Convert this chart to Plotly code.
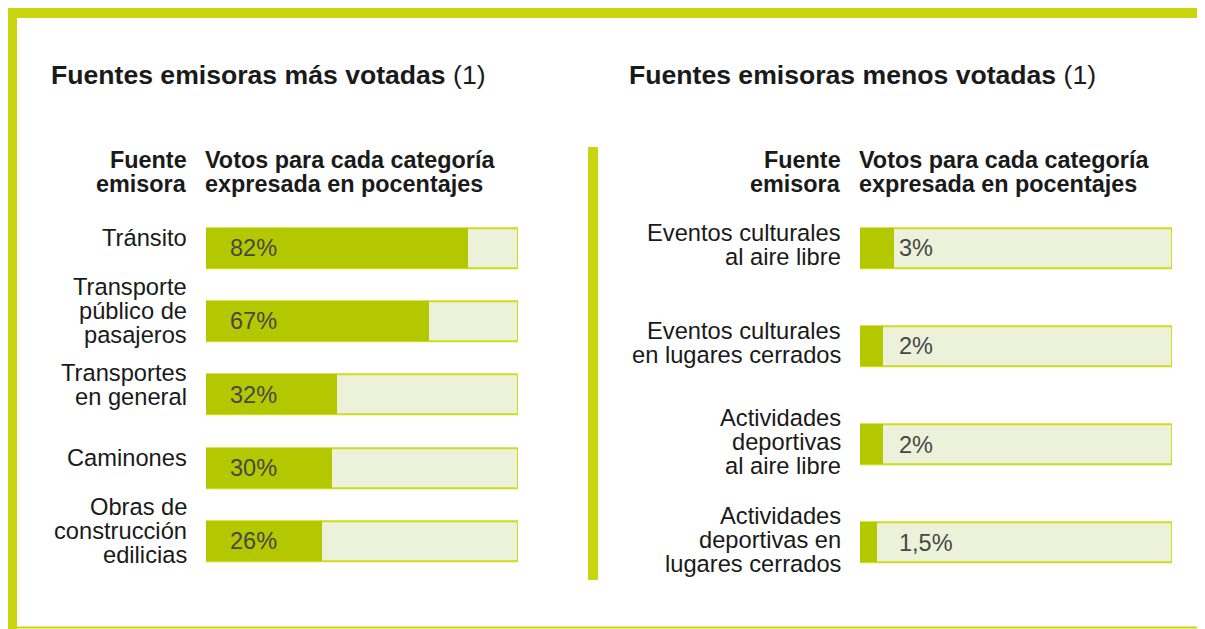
import plotly.graph_objects as go

# ---------------- data ----------------
left_categories = [
    "Tránsito",
    "Transporte<br>público de<br>pasajeros",
    "Transportes<br>en general",
    "Caminones",
    "Obras de<br>construcción<br>edilicias",
]
left_values = [82, 67, 32, 30, 26]

right_categories = [
    "Eventos culturales<br>al aire libre",
    "Eventos culturales<br>en lugares cerrados",
    "Actividades<br>deportivas<br>al aire libre",
    "Actividades<br>deportivas en<br>lugares cerrados",
]
right_values = [3, 2, 2, 1.5]

left_title = "Fuentes emisoras más votadas"
right_title = "Fuentes emisoras menos votadas"
title_note = "(1)"
header_source = ["Fuente", "emisora"]
header_votes = ["Votos para cada categoría", "expresada en pocentajes"]

# ---------------- style ----------------
# The page body has an 8px default margin, so the figure is offset by 8px
# and all page-pixel positions are converted accordingly.
OFF = 8
W, H = 1205 - OFF, 629 - OFF
FRAME = "#c9d50f"
BAR_BORDER = "#cfdb1c"
BAR_BG = "#ecf2da"
BAR_FILL = "#b4c800"
TEXT = "#1a1a1a"
PCT_TEXT = "#474747"
FONT = "Liberation Sans, Arial, sans-serif"

LEFT_RANGE = [-18.4, 101.3]
RIGHT_RANGE = [0, 27.4]


def px(x):
    return (x - OFF) / W


def py(y):
    return 1 - (y - OFF) / H


def fmt(v):
    return ("%g" % v).replace(".", ",") + "%"


fig = go.Figure()

panels = [
    dict(cats=left_categories, vals=left_values, rng=LEFT_RANGE, xa="x", ya="y",
         xdom=[px(206), px(518)], ydom=[py(577.95), py(211.35)], bw=0.548,
         label_right=189, bar_left=203, pct_x=228, title_x=49, label_shift=10),
    dict(cats=right_categories, vals=right_values, rng=RIGHT_RANGE, xa="x2", ya="y2",
         xdom=[px(860), px(1172)], ydom=[py(591.75), py(199.25)], bw=0.408,
         label_right=843, bar_left=857, pct_x=897, title_x=627, label_shift=3),
]

annotations = []
for i, p in enumerate(panels):
    n = len(p["cats"])
    lo, hi = p["rng"]
    fig.add_trace(go.Bar(
        orientation="h", y=p["cats"], x=[hi - lo] * n, base=lo,
        width=p["bw"], marker=dict(color=BAR_BG, line=dict(color=BAR_BORDER, width=2)),
        xaxis=p["xa"], yaxis=p["ya"], hoverinfo="skip", showlegend=False,
    ))
    fig.add_trace(go.Bar(
        orientation="h", y=p["cats"], x=[v - lo for v in p["vals"]], base=lo,
        width=p["bw"], marker=dict(color=BAR_FILL, line=dict(width=0)),
        xaxis=p["xa"], yaxis=p["ya"], showlegend=False,
        customdata=p["vals"], hovertemplate="%{customdata}%<extra></extra>",
    ))
    # category labels (line by line, tight leading)
    for cat, val in zip(p["cats"], p["vals"]):
        lines = cat.split("<br>")
        m = len(lines)
        for j, line in enumerate(lines):
            annotations.append(dict(
                x=px(p["label_right"]), xref="paper", xanchor="right",
                y=cat, yref=p["ya"], yanchor="middle",
                yshift=p["label_shift"] + ((m - 1) / 2 - j) * 24,
                text=line, showarrow=False,
                font=dict(family=FONT, size=23.7, color=TEXT),
            ))
        annotations.append(dict(
            x=px(p["pct_x"]), xref="paper", xanchor="left",
            y=cat, yref=p["ya"], yanchor="middle",
            text=fmt(val), showarrow=False,
            font=dict(family=FONT, size=23.5, color=PCT_TEXT),
        ))
    # headers
    for j, line in enumerate(header_source):
        annotations.append(dict(
            x=px(p["label_right"]), xref="paper", xanchor="right",
            y=py(160 + 24.5 * j), yref="paper", yanchor="middle",
            text="<b>%s</b>" % line, showarrow=False,
            font=dict(family=FONT, size=23.4, color=TEXT),
        ))
    for j, line in enumerate(header_votes):
        annotations.append(dict(
            x=px(p["bar_left"]), xref="paper", xanchor="left",
            y=py(160 + 24.5 * j), yref="paper", yanchor="middle",
            text="<b>%s</b>" % line, showarrow=False,
            font=dict(family=FONT, size=23.4, color=TEXT),
        ))
    title = left_title if i == 0 else right_title
    annotations.append(dict(
        x=px(p["title_x"]), xref="paper", xanchor="left",
        y=py(75), yref="paper", yanchor="middle",
        text="<b>%s</b> %s" % (title, title_note), showarrow=False,
        font=dict(family=FONT, size=26.6, color=TEXT),
    ))

shapes = [
    # frame: left thick bar, top thick bar, thin bottom line
    dict(type="rect", xref="paper", yref="paper", x0=px(7), x1=px(17), y0=py(629), y1=py(8),
         fillcolor=FRAME, line=dict(width=0), layer="below"),
    dict(type="rect", xref="paper", yref="paper", x0=px(7), x1=px(1205), y0=py(18), y1=py(8),
         fillcolor=FRAME, line=dict(width=0), layer="below"),
    dict(type="rect", xref="paper", yref="paper", x0=px(7), x1=px(1205), y0=py(628.5), y1=py(626.5),
         fillcolor=FRAME, line=dict(width=0), layer="below"),
    # divider
    dict(type="rect", xref="paper", yref="paper", x0=px(588), x1=px(598), y0=py(580), y1=py(147),
         fillcolor=FRAME, line=dict(width=0), layer="below"),
]

axis_common = dict(showgrid=False, zeroline=False, showticklabels=False, ticks="", showline=False,
                   fixedrange=True)
fig.update_layout(
    width=W, height=H,
    margin=dict(l=0, r=0, t=0, b=0),
    paper_bgcolor="white", plot_bgcolor="rgba(0,0,0,0)",
    barmode="overlay", bargap=0,
    xaxis=dict(domain=panels[0]["xdom"], range=LEFT_RANGE, anchor="y", **axis_common),
    yaxis=dict(domain=panels[0]["ydom"], type="category", categoryorder="array",
               categoryarray=left_categories, range=[len(left_categories) - 0.5, -0.5],
               anchor="x", **axis_common),
    xaxis2=dict(domain=panels[1]["xdom"], range=RIGHT_RANGE, anchor="y2", **axis_common),
    yaxis2=dict(domain=panels[1]["ydom"], type="category", categoryorder="array",
                categoryarray=right_categories, range=[len(right_categories) - 0.5, -0.5],
                anchor="x2", **axis_common),
    annotations=annotations,
    shapes=shapes,
    font=dict(family=FONT, color=TEXT),
)

fig.write_html("out.html")
